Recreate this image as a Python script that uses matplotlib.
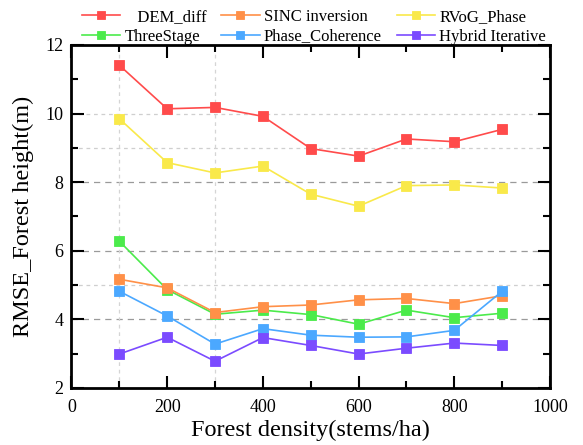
import matplotlib
matplotlib.use("Agg")
import matplotlib.pyplot as plt
from matplotlib.ticker import MultipleLocator

plt.rcParams['font.family'] = ['Liberation Serif', 'DejaVu Serif']
plt.rcParams['mathtext.fontset'] = 'stix'

density = [100, 200, 300, 400, 500, 600, 700, 800, 900]

dem_diff = [11.41, 10.14, 10.18, 9.92, 8.98, 8.76, 9.26, 9.18, 9.54]
sinc_inversion = [5.17, 4.92, 4.20, 4.37, 4.42, 4.57, 4.61, 4.46, 4.69]
rvog_phase = [9.85, 8.57, 8.27, 8.47, 7.65, 7.30, 7.90, 7.92, 7.83]
three_stage = [6.28, 4.87, 4.15, 4.27, 4.14, 3.86, 4.27, 4.05, 4.18]
phase_coherence = [4.82, 4.10, 3.28, 3.73, 3.54, 3.48, 3.49, 3.68, 4.82]
hybrid_iterative = [2.99, 3.48, 2.78, 3.47, 3.24, 2.99, 3.16, 3.31, 3.24]

series = [
    ("   DEM_diff", dem_diff, "#FF4B4B"),
    ("ThreeStage", three_stage, "#4BEB4B"),
    ("SINC inversion", sinc_inversion, "#FF9048"),
    ("Phase_Coherence", phase_coherence, "#4BA8FF"),
    ("RVoG_Phase", rvog_phase, "#F9E94A"),
    ("Hybrid Iterative", hybrid_iterative, "#7B4BFF"),
]

fig = plt.figure(figsize=(5.83, 4.45), dpi=100)
ax = fig.add_axes([0.1226, 0.1281, 0.8208, 0.7708])

# Grid: darker dashes on even values, lighter on a few odd ones
for yv in (4, 6, 8):
    ax.axhline(yv, color="#9a9a9a", lw=0.9, ls=(0, (5, 4)), zorder=1)
for yv in (5, 9, 10):
    ax.axhline(yv, color="#cfcfcf", lw=0.9, ls=(0, (3, 3)), zorder=1)
for xv in (100, 300):
    ax.axvline(xv, color="#d5d5d5", lw=0.9, ls=(0, (3, 3)), zorder=1)

handles = []
for label, vals, color in series:
    h, = ax.plot(density, vals, color=color, lw=1.2, marker="s",
                 markersize=6.5, markeredgewidth=0.6,
                 markeredgecolor=color, label=label, zorder=3)
    handles.append(h)

ax.set_xlim(0, 1000)
ax.set_ylim(2, 12)
ax.xaxis.set_major_locator(MultipleLocator(200))
ax.xaxis.set_minor_locator(MultipleLocator(100))
ax.yaxis.set_major_locator(MultipleLocator(2))
ax.yaxis.set_minor_locator(MultipleLocator(1))

ax.tick_params(which="both", direction="in", top=True, right=True, width=1.5,
               colors="black")
ax.tick_params(which="major", length=9, labelsize=13)
ax.tick_params(axis="x", which="major", pad=8)
ax.tick_params(axis="y", which="major", pad=6)
ax.tick_params(which="minor", length=5)
for s in ax.spines.values():
    s.set_linewidth(2.0)

ax.set_xlabel("Forest density(stems/ha)", fontsize=17.5, labelpad=3)
ax.set_ylabel("RMSE_Forest height(m)", fontsize=17.5, labelpad=8)

fig.legend(handles=handles, ncol=3,
           loc="upper left", bbox_to_anchor=(0.115, 1.013),
           frameon=False, fontsize=12, handlelength=2.3,
           handletextpad=0.25, columnspacing=0.9, labelspacing=0.2,
           markerscale=0.8)

fig.savefig("out.png", dpi=100)
